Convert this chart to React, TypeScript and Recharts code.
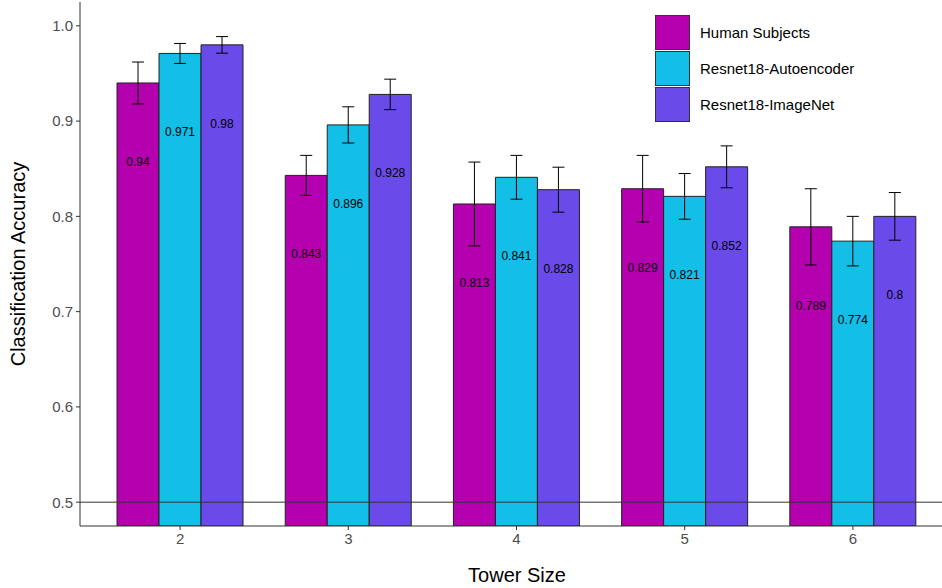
import {
  BarChart,
  Bar,
  XAxis,
  YAxis,
  ErrorBar,
  LabelList,
  Legend,
  ReferenceLine
} from "recharts";

const towerSizes = ["2", "3", "4", "5", "6"];

const humanAcc = [0.94, 0.843, 0.813, 0.829, 0.789];
const humanErr = [0.022, 0.021, 0.044, 0.035, 0.04];

const autoencoderAcc = [0.971, 0.896, 0.841, 0.821, 0.774];
const autoencoderErr = [0.0105, 0.019, 0.023, 0.024, 0.026];

const imagenetAcc = [0.98, 0.928, 0.828, 0.852, 0.8];
const imagenetErr = [0.0087, 0.016, 0.0236, 0.022, 0.025];

const yTicks = [0.5, 0.6, 0.7, 0.8, 0.9, 1.0];

const data = towerSizes.map((size, i) => ({
  size,
  human: humanAcc[i],
  humanErr: humanErr[i],
  autoencoder: autoencoderAcc[i],
  autoencoderErr: autoencoderErr[i],
  imagenet: imagenetAcc[i],
  imagenetErr: imagenetErr[i]
}));

const FONT = "'Liberation Sans', Arial, Helvetica, sans-serif";

// value printed a fixed distance below the top of each bar
const ValueLabel = (props: any) => {
  const { x, y, width, value } = props;
  return (
    <text
      x={x + width / 2}
      y={y + 79}
      textAnchor="middle"
      dominantBaseline="central"
      fontSize={12}
      fontFamily={FONT}
      fill="#000"
    >
      {value}
    </text>
  );
};

const LegendBox = ({ payload }: any) => (
  <div style={{ fontFamily: FONT }}>
    {(payload || []).map((entry: any) => (
      <div
        key={entry.value}
        style={{ display: "flex", alignItems: "center", height: 36 }}
      >
        <div
          style={{
            width: 35,
            height: 35,
            boxSizing: "border-box",
            background: entry.color,
            border: "1px solid #333"
          }}
        />
        <span style={{ marginLeft: 10, fontSize: 15, color: "#000" }}>
          {entry.value}
        </span>
      </div>
    ))}
  </div>
);

export default function App() {
  return (
    <div style={{ position: "absolute", left: 0, top: 0 }}>
      <BarChart
        width={942}
        height={588}
        data={data}
        margin={{ top: 2, right: 0, left: 0, bottom: 0 }}
        barCategoryGap="12.5%"
        barGap={0}
      >
        <XAxis
          dataKey="size"
          height={62}
          padding={{ left: 16, right: 5 }}
          stroke="#333"
          tickSize={4}
          tickMargin={3}
          tick={{ fill: "#4d4d4d", fontSize: 15, fontFamily: FONT }}
          label={{
            value: "Tower Size",
            position: "insideBottom",
            offset: 6,
            dx: 6,
            fill: "#000",
            fontSize: 20,
            fontFamily: FONT
          }}
        />
        <YAxis
          width={80}
          domain={[0.475, 1.025]}
          allowDataOverflow
          ticks={yTicks}
          tickFormatter={(v: number) => v.toFixed(1)}
          stroke="#333"
          tickSize={4}
          tickMargin={3}
          tick={{ fill: "#4d4d4d", fontSize: 15, fontFamily: FONT }}
          label={{
            value: "Classification Accuracy",
            angle: -90,
            position: "insideLeft",
            offset: 18,
            style: { textAnchor: "middle" },
            fill: "#000",
            fontSize: 20,
            fontFamily: FONT
          }}
        />
        <Legend
          layout="vertical"
          align="center"
          verticalAlign="middle"
          content={<LegendBox />}
          wrapperStyle={{ left: 655, top: 14, width: 240, height: 110 }}
        />
        <Bar
          dataKey="human"
          name="Human Subjects"
          fill="#b500af"
          stroke="#222"
          strokeWidth={1}
          isAnimationActive={false}
        >
          <ErrorBar dataKey="humanErr" width={6} stroke="#000" strokeWidth={1} direction="y" />
          <LabelList dataKey="human" content={<ValueLabel />} />
        </Bar>
        <Bar
          dataKey="autoencoder"
          name="Resnet18-Autoencoder"
          fill="#13bfe7"
          stroke="#222"
          strokeWidth={1}
          isAnimationActive={false}
        >
          <ErrorBar dataKey="autoencoderErr" width={6} stroke="#000" strokeWidth={1} direction="y" />
          <LabelList dataKey="autoencoder" content={<ValueLabel />} />
        </Bar>
        <Bar
          dataKey="imagenet"
          name="Resnet18-ImageNet"
          fill="#6a4ae8"
          stroke="#222"
          strokeWidth={1}
          isAnimationActive={false}
        >
          <ErrorBar dataKey="imagenetErr" width={6} stroke="#000" strokeWidth={1} direction="y" />
          <LabelList dataKey="imagenet" content={<ValueLabel />} />
        </Bar>
        <ReferenceLine y={0.5} stroke="#333" strokeWidth={1} />
      </BarChart>
    </div>
  );
}
